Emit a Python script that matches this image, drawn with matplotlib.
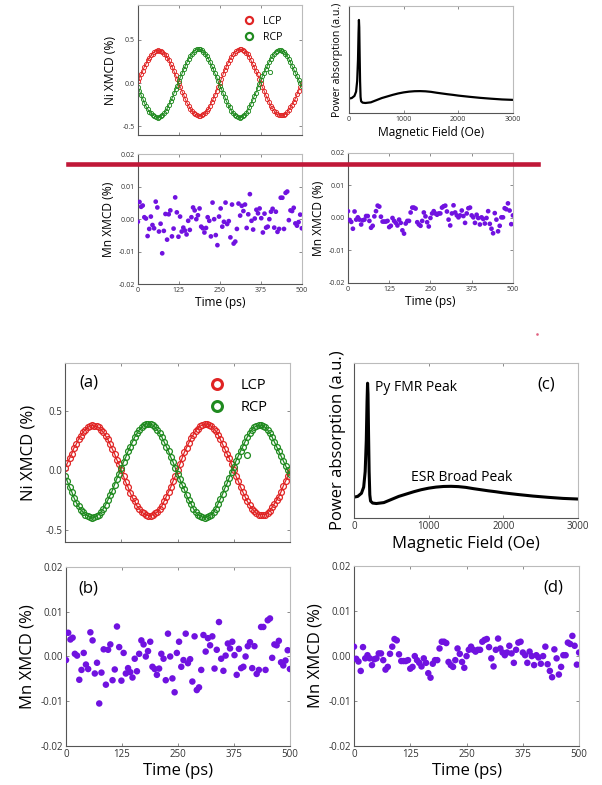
import numpy as np
import matplotlib
matplotlib.use('Agg')
from matplotlib import pyplot as plt
from matplotlib.lines import Line2D

plt.rcParams['font.family'] = ['Open Sans', 'DejaVu Sans']

# Ni XMCD, sampled every 5 ps from 0 to 500 ps
lcp = [0.02, 0.06, 0.10, 0.14, 0.19, 0.22, 0.26, 0.29, 0.32, 0.34, 0.36, 0.37, 0.38,
       0.37, 0.37, 0.36, 0.34, 0.32, 0.29, 0.26, 0.22, 0.18, 0.14, 0.09, 0.05, 0.00,
       -0.05, -0.10, -0.14, -0.19, -0.23, -0.26, -0.30, -0.32, -0.35, -0.36, -0.37, -0.38,
       -0.38, -0.37, -0.36, -0.35, -0.32, -0.30, -0.26, -0.22, -0.18, -0.14, -0.09, -0.05, 0.00,
       0.05, 0.10, 0.15, 0.19, 0.23, 0.27, 0.30, 0.33, 0.35, 0.37, 0.38, 0.39,
       0.39, 0.38, 0.37, 0.35, 0.33, 0.30, 0.26, 0.22, 0.18, 0.14, 0.10, 0.05, 0.00,
       -0.05, -0.09, -0.14, -0.18, -0.22, -0.26, -0.29, -0.32, -0.34, -0.36, -0.37, -0.37,
       -0.37, -0.37, -0.36, -0.34, -0.31, -0.28, -0.25, -0.22, -0.18, -0.13, -0.09, -0.05, -0.01]
rcp = [-0.05, -0.09, -0.14, -0.18, -0.23, -0.27, -0.30, -0.33, -0.35, -0.37, -0.38, -0.39, -0.40,
       -0.39, -0.38, -0.37, -0.35, -0.32, -0.29, -0.25, -0.21, -0.17, -0.12, -0.07, -0.03, 0.02,
       0.07, 0.11, 0.16, 0.20, 0.24, 0.28, 0.31, 0.34, 0.36, 0.38, 0.39, 0.39,
       0.39, 0.38, 0.36, 0.34, 0.31, 0.28, 0.24, 0.20, 0.16, 0.11, 0.07, 0.02, -0.03,
       -0.07, -0.12, -0.16, -0.21, -0.25, -0.28, -0.32, -0.35, -0.37, -0.38, -0.39, -0.40,
       -0.39, -0.38, -0.37, -0.35, -0.32, -0.28, -0.24, -0.20, -0.15, -0.11, -0.06, -0.01, 0.03,
       0.08, 0.12, 0.16, 0.20, 0.24, 0.28, 0.31, 0.34, 0.36, 0.37, 0.38, 0.38,
       0.37, 0.36, 0.34, 0.31, 0.28, 0.24, 0.20, 0.16, 0.12, 0.08, 0.04, 0.00, -0.03]
ni_time = np.linspace(0, 500, len(lcp))
rcp_stray_t = [404]
rcp_stray = [0.13]

# FMR spectrum
field = [0, 50, 100, 130, 150, 165, 175, 182, 188, 195, 203, 212, 222, 250, 300, 400, 500, 600,
         700, 800, 900, 1000, 1100, 1200, 1300, 1400, 1500, 1600, 1700, 1800, 1900, 2000,
         2200, 2400, 2600, 2800, 3000]
power = [0.135, 0.14, 0.16, 0.20, 0.30, 0.50, 0.75, 0.87, 0.80, 0.55, 0.30, 0.15, 0.11, 0.097,
         0.094, 0.10, 0.12, 0.14, 0.155, 0.17, 0.183, 0.193, 0.20, 0.204, 0.205, 0.203, 0.198,
         0.19, 0.183, 0.176, 0.17, 0.163, 0.152, 0.142, 0.134, 0.127, 0.123]

# Mn XMCD, panel (b)
mn_b = [-0.0008, 0.0053, 0.0038, 0.0042, 0.0006, 0.0002, -0.0052, -0.0030, 0.0008, -0.0018,
        -0.0028, 0.0054, 0.0036, -0.0038, -0.0014, -0.0105, -0.0036, 0.0016, -0.0063, 0.0015,
        0.0027, -0.0053, -0.0029, 0.0067, 0.0021, -0.0054, 0.0008, -0.0038, -0.0026, -0.0035,
        -0.0047, -0.0005, -0.0033, 0.0006, 0.0036, 0.0027, 0.0000, 0.0012, 0.0033, -0.0023,
        -0.0028, -0.0041, -0.0027, 0.0006, -0.0005, -0.0053, 0.0051, 0.0000, -0.0049, -0.0080,
        0.0008, 0.0033, -0.0023, -0.0008, 0.0051, -0.0015, -0.0006, -0.0056, 0.0045, -0.0075,
        -0.0069, -0.0030, 0.0048, 0.0011, 0.0041, 0.0025, 0.0045, -0.0027, 0.0015, 0.0077,
        -0.0005, -0.0032, 0.0002, 0.0029, 0.0018, 0.0033, 0.0003, -0.0041, 0.0017, -0.0026,
        -0.0023, 0.0000, 0.0023, 0.0032, -0.0026, 0.0023, -0.0039, -0.0030, 0.0066, 0.0066,
        -0.0030, 0.0081, 0.0085, -0.0003, 0.0027, 0.0025, 0.0035, -0.0013, -0.0020, -0.0009,
        0.0014, -0.0028]
t_b = np.linspace(0, 500, len(mn_b))

# Mn XMCD, panel (d)
mn_d = [0.0021, -0.0006, -0.0012, -0.0033, 0.0020, -0.0005, 0.0002, -0.0005, -0.0020, -0.0007,
        -0.0005, 0.0006, 0.0006, -0.0009, -0.0030, -0.0024, 0.0005, 0.0021, 0.0038, 0.0035,
        0.0004, -0.0011, -0.0011, -0.0011, -0.0009, -0.0028, -0.0024, 0.0000, -0.0009, -0.0015,
        -0.0023, -0.0005, -0.0015, -0.0038, -0.0048, -0.0017, -0.0009, -0.0009, 0.0017, 0.0032,
        0.0032, 0.0029, -0.0013, -0.0020, -0.0024, -0.0009, 0.0017, 0.0005, -0.0013, -0.0026,
        0.0000, 0.0014, 0.0021, 0.0014, 0.0010, 0.0014, 0.0014, 0.0032, 0.0036, 0.0038,
        0.0020, -0.0005, -0.0023, 0.0014, 0.0039, 0.0017, 0.0008, 0.0002, 0.0008, 0.0023,
        0.0006, -0.0015, 0.0014, 0.0030, 0.0032, 0.0008, 0.0002, -0.0015, 0.0010, 0.0000,
        -0.0020, 0.0002, -0.0003, -0.0017, 0.0000, 0.0021, -0.0018, -0.0033, -0.0047, 0.0015,
        -0.0005, -0.0041, -0.0024, 0.0002, 0.0002, 0.0030, 0.0027, 0.0045, 0.0023, -0.0019,
        0.0008]
t_d = np.linspace(0, 500, len(mn_d))

red = '#e02424'
green = '#1f8a1f'
purple = '#7012e0'


def frame(ax, tick_fs):
    for side in ['top', 'right']:
        ax.spines[side].set_color('#bbbbbb')
    for side in ['left', 'bottom']:
        ax.spines[side].set_color('#555555')
    for sp in ax.spines.values():
        sp.set_linewidth(0.8)
    ax.tick_params(direction='in', top=True, right=True, length=2.5, width=0.6,
                   color='#777777', labelsize=tick_fs, pad=2, labelcolor='#333333')


def ni_panel(ax, s, label=None):
    for vals, c, name in [(lcp, red, 'LCP'), (rcp, green, 'RCP')]:
        ax.plot(ni_time, vals, '-', color=c, lw=0.9 * s)
        ax.plot(ni_time, vals, 'o', mfc='none', mec=c, ms=4.2 * s, mew=0.9 * s, label=name)
    ax.plot(rcp_stray_t, rcp_stray, 'o', mfc='none', mec=green, ms=4.2 * s, mew=0.9 * s)
    ax.set_xlim(0, 500)
    ax.set_ylim(-0.6, 0.9)
    ax.set_xticks([0, 125, 250, 375, 500])
    ax.set_xticklabels([])
    ax.set_yticks([-0.5, 0.0, 0.5])
    ax.set_yticklabels(['-0.5', '0.0', '0.5'])
    frame(ax, 7 * s)
    ax.set_ylabel('Ni XMCD (%)', fontsize=12 * s, labelpad=6 * s)
    leg = ax.legend(loc='upper left', bbox_to_anchor=(0.58, 0.99), frameon=False,
                    fontsize=10.5 * s, markerscale=1.7, handlelength=1.2,
                    handletextpad=1.0 * s, labelspacing=0.5)
    for h in leg.legend_handles:
        h.set_markeredgewidth(2.2 * s)
    if label:
        ax.text(0.065, 0.89, label, transform=ax.transAxes, fontsize=12 * s, va='center')


def fmr_panel(ax, s, notes=False):
    ax.plot(field, power, color='black', lw=2.2 * s)
    ax.set_xlim(0, 3000)
    ax.set_ylim(0, 1)
    ax.set_xticks([0, 1000, 2000, 3000])
    ax.set_yticks([])
    frame(ax, 7 * s)
    ax.set_xlabel('Magnetic Field (Oe)', fontsize=12 * s, labelpad=3 * s)
    ax.set_ylabel('Power absorption (a.u.)', fontsize=(12 if notes else 10.5) * s,
                  labelpad=6 * s)
    if notes:
        ax.text(280, 0.84, 'Py FMR Peak', fontsize=10, va='center')
        ax.text(770, 0.26, 'ESR Broad Peak', fontsize=10, va='center')
        ax.text(0.82, 0.86, '(c)', transform=ax.transAxes, fontsize=12, va='center')


def mn_panel(ax, t, v, s, label=None, lx=0.06):
    ax.scatter(t, v, s=22 * s * s, color=purple, edgecolors='none', zorder=3)
    ax.set_xlim(0, 500)
    ax.set_ylim(-0.02, 0.02)
    ax.set_xticks([0, 125, 250, 375, 500])
    ax.set_yticks([-0.02, -0.01, 0.0, 0.01, 0.02])
    ax.set_yticklabels(['-0.02', '-0.01', '0.00', '0.01', '0.02'])
    frame(ax, 7 * s)
    ax.set_xlabel('Time (ps)', fontsize=12 * s, labelpad=2 * s)
    ax.set_ylabel('Mn XMCD (%)', fontsize=12 * s, labelpad=4 * s)
    if label:
        ax.text(lx, 0.88, label, transform=ax.transAxes, fontsize=12 * s, va='center')


fig = plt.figure(figsize=(6.02, 7.85), dpi=100)

# small copy at the top
sm = 0.72
ni_panel(fig.add_axes([0.229, 0.828, 0.2724, 0.1656]), sm)
fmr_panel(fig.add_axes([0.5797, 0.856, 0.2724, 0.1363]), sm)
mn_panel(fig.add_axes([0.229, 0.638, 0.2724, 0.1656]), t_b, mn_b, sm)
mn_panel(fig.add_axes([0.578, 0.6395, 0.274, 0.1656]), t_d, mn_d, sm)

# full size panels
ni_panel(fig.add_axes([0.108, 0.3096, 0.3738, 0.228]), 1.0, '(a)')
fmr_panel(fig.add_axes([0.588, 0.340, 0.372, 0.1975]), 1.0, notes=True)
mn_panel(fig.add_axes([0.1096, 0.0497, 0.372, 0.228]), t_b, mn_b, 1.0, '(b)', 0.055)
mn_panel(fig.add_axes([0.588, 0.0497, 0.374, 0.229]), t_d, mn_d, 1.0, '(d)', 0.84)

# red separator line across the top copy
fig.add_artist(Line2D([68 / 602, 538 / 602], [1 - 164 / 785, 1 - 164 / 785],
                      color='#c01838', lw=3.3, transform=fig.transFigure, zorder=10))
fig.add_artist(Line2D([537 / 602], [1 - 334 / 785], marker='s', ms=0.8, color='#e06080',
                      transform=fig.transFigure))

fig.savefig('out.png', dpi=100)
